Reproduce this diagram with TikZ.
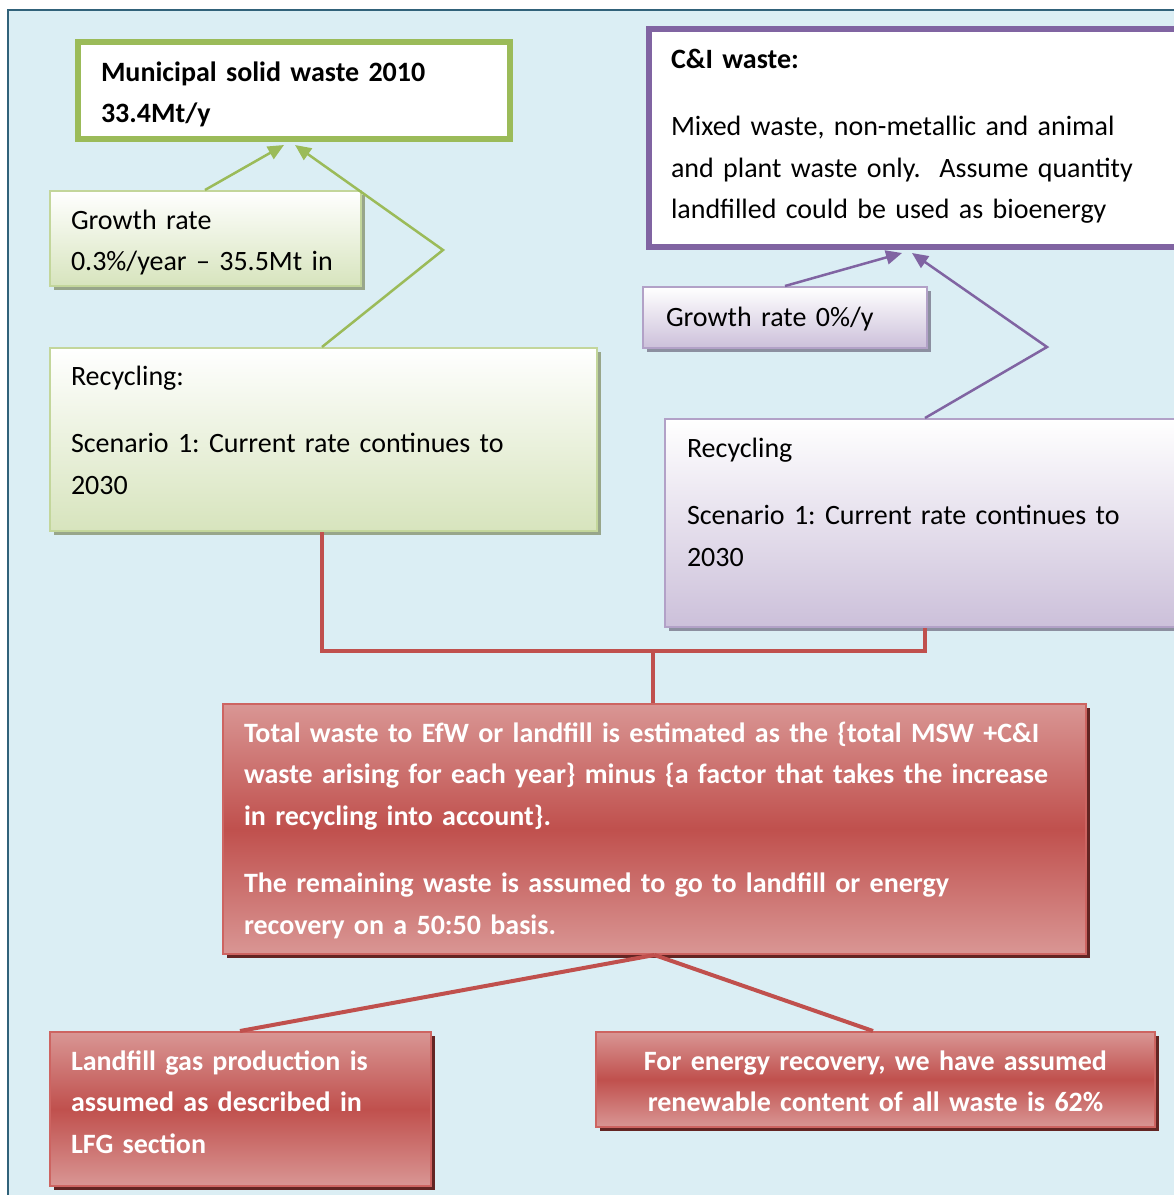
\documentclass[tikz,border=0pt]{standalone}
\usepackage{fontspec}
\setmainfont{Carlito}
\frenchspacing
\usetikzlibrary{arrows.meta,shadows,calc}
\definecolor{bgblue}{HTML}{DBEEF4}
\definecolor{framecol}{HTML}{31627A}
\definecolor{olive}{HTML}{9BBB59}
\definecolor{oliveline}{HTML}{C3D69B}
\definecolor{olivefill}{HTML}{D7E4BD}
\definecolor{oliveshadow}{HTML}{98A68A}
\definecolor{violet}{HTML}{8064A2}
\definecolor{violetline}{HTML}{B2A1C7}
\definecolor{violetfill}{HTML}{CCC0DA}
\definecolor{violetshadow}{HTML}{8C8FA0}
\definecolor{brick}{HTML}{C0504D}
\definecolor{brickedge}{HTML}{CD6461}
\definecolor{bricklight}{HTML}{D99694}
\definecolor{brickshadow}{HTML}{632523}
\begin{document}
\begin{tikzpicture}[x=1pt,y=-1pt,
  txt/.style={font=\fontsize{28}{41.5}\selectfont, align=left, anchor=north west,
    inner xsep=21pt, inner ysep=0pt},
  mainbox/.style={txt, draw, fill=white, line width=6pt, font=\fontsize{28}{41.5}\selectfont\bfseries},
  greenbox/.style={txt, draw=oliveline, line width=2pt, top color=white, bottom color=olivefill,
    drop shadow={shadow xshift=4pt, shadow yshift=-4pt, fill=oliveshadow, opacity=1}},
  purplebox/.style={txt, draw=violetline, line width=2pt, top color=white, bottom color=violetfill,
    drop shadow={shadow xshift=4pt, shadow yshift=-4pt, fill=violetshadow, opacity=1}},
  redbox/.style={txt, draw=brickedge, line width=2pt, top color=bricklight, bottom color=bricklight,
    middle color=brick, text=white, font=\fontsize{28}{41.5}\selectfont\bfseries,
    drop shadow={shadow xshift=4pt, shadow yshift=-4pt, fill=brickshadow, opacity=1}},
  greenarrow/.style={draw=olive, line width=2.5pt, -{Triangle[length=16pt,width=14pt]}},
  purplearrow/.style={draw=violet, line width=2.5pt, -{Triangle[length=16pt,width=14pt]}},
  redline/.style={draw=brick, line width=4pt}]
\useasboundingbox (0,0) rectangle (1174,1195);
\clip (0,0) rectangle (1174,1195);

% page panel
\draw[framecol, fill=bgblue, line width=2pt] (8,10) rectangle (1220,1230);

% municipal solid waste branch
\node[mainbox, draw=olive, inner xsep=23pt, text width=386pt, text height=39pt, text depth=58pt]
  (msw) at (75,39) {Municipal solid waste 2010\\33.4Mt/y};
\node[greenbox, text width=269pt, text height=38pt, text depth=57pt]
  (mgrowth) at (49,190) {Growth rate\\\mbox{0.3\%/year -- 35.5Mt in}};
\node[greenbox, text width=505pt, text height=37pt, text depth=146pt]
  (mrec) at (49,347) {Recycling:\\[26pt]\mbox{Scenario 1: Current rate continues to}\\2030};

% commercial and industrial branch
\node[mainbox, draw=violet, inner xsep=22pt, text width=490pt, text height=39pt, text depth=179pt]
  (ci) at (646,26) {C\&I waste:\\[26pt]\mbox{\mdseries Mixed waste, non-metallic and animal}\\
  \mbox{\mdseries and plant waste only.\ \ Assume quantity}\\\mbox{\mdseries landfilled could be used as bioenergy}};
\node[purplebox, inner xsep=23pt, text width=238pt, text height=39pt, text depth=22pt]
  (cgrowth) at (642,286) {Growth rate 0\%/y};
\node[purplebox, inner xsep=22pt, text width=482pt, text height=38pt, text depth=170pt]
  (crec) at (664,418) {Recycling\\[26pt]\mbox{Scenario 1: Current rate continues to}\\2030};

% combined estimate and outcomes
\node[redbox, text width=821pt, text height=38pt, text depth=212pt]
  (total) at (222,703) {\mbox{Total waste to EfW or landfill is estimated as the \{total MSW +C\&I}\\
  \mbox{waste arising for each year\} minus \{a factor that takes the increase}\\
  \mbox{in recycling into account\}.}\\[26pt]
  \mbox{The remaining waste is assumed to go to landfill or energy}\\
  \mbox{recovery on a 50:50 basis.}};
\node[redbox, text width=339pt, text height=38pt, text depth=116pt]
  (lfg) at (49,1031) {\mbox{Landfill gas production is}\\\mbox{assumed as described in}\\LFG section};
\node[redbox, align=center, text width=517pt, text height=38pt, text depth=57pt]
  (efw) at (595,1031) {\mbox{For energy recovery, we have assumed}\\\mbox{renewable content of all waste is 62\%}};

% attachment points
\coordinate (mswA) at ($(msw.south west)+(209,3)$);
\coordinate (mswB) at ($(msw.south west)+(220,3)$);
\coordinate (mbend) at (443,250);
\coordinate (ciA) at ($(ci.south west)+(256,3)$);
\coordinate (ciB) at ($(ci.south west)+(266,3)$);
\coordinate (cbend) at (1047,347);
\coordinate (join) at (653,651);

% green and purple arrows
\draw[greenarrow] ($(mgrowth.north west)+(156,0)$) -- (mswA);
\draw[greenarrow] ($(mrec.north west)+(273,0)$) -- (mbend) -- (mswB);
\draw[purplearrow] ($(cgrowth.north west)+(143,0)$) -- (ciA);
\draw[purplearrow] ($(crec.north west)+(261,0)$) -- (cbend) -- (ciB);

% red connectors
\draw[redline] ($(mrec.south west)+(273,0)$) |- (join) -| ($(crec.south west)+(261,0)$);
\draw[redline] (join) -- (join |- total.north);
\draw[redline] (total.south) -- ($(lfg.north west)+(191,0)$);
\draw[redline] (total.south) -- ($(efw.north west)+(278,0)$);
\end{tikzpicture}
\end{document}
